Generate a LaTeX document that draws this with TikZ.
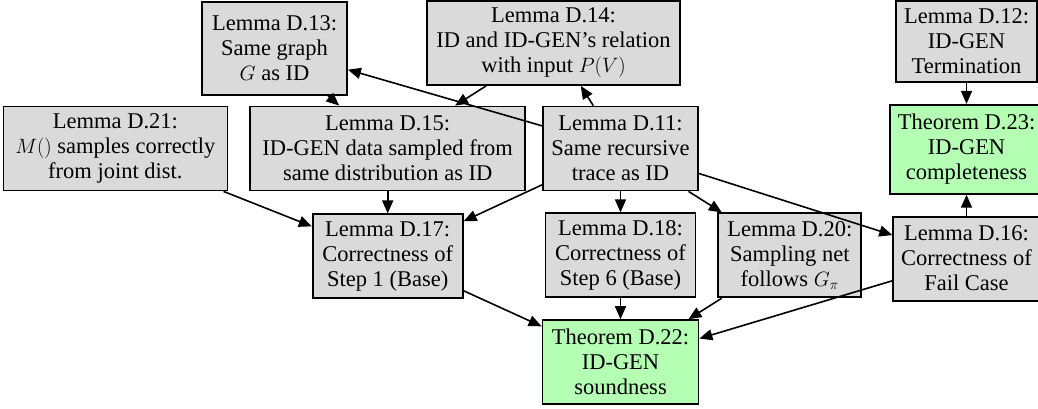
\documentclass[tikz,border=0pt]{standalone}
\usepackage{fontspec}
\setmainfont{Liberation Serif}
\usepackage{xcolor}
\usepackage{amsmath}
\usetikzlibrary{arrows.meta,positioning}
\definecolor{lemmagray}{RGB}{218,218,218}
\definecolor{thmgreen}{RGB}{180,255,180}

\begin{document}
\begin{tikzpicture}[x=1pt, y=-1pt, node distance = 21pt]
        \tikzstyle{lemma} = [rectangle, draw, line width = 1.8pt, fill = lemmagray, align = center, font = \fontsize{22.5}{25}\selectfont, minimum height = 84pt, inner xsep = 8pt, inner ysep = 4pt]
        \tikzstyle{theorem} = [lemma, fill = thmgreen]
        \tikzstyle{dep} = [-{Triangle[length=13pt, width=11pt]}, line width = 1.6pt]
        \useasboundingbox (0,0) rectangle (1038,408);
        \node at (620.5,148.5) (lemmaeleven) [lemma, minimum width = 155pt] {Lemma D.11: \\ Same recursive \\ trace as ID};
        \node (lemmafifteen) [lemma, minimum width = 275pt, left = 16pt of lemmaeleven] {Lemma D.15: \\ ID-GEN data sampled from \\ same distribution as ID};
        \node (lemmatwentyone) [lemma, minimum width = 224pt, left = of lemmafifteen] {Lemma D.21: \\ $M()$ samples correctly \\ from joint dist.};
        \node (lemmaeighteen) [lemma, minimum width = 150pt, below = of lemmaeleven] {Lemma D.18: \\ Correctness of \\ Step 6 (Base)};
        \node (thmsound) [theorem, minimum width = 156pt, below = of lemmaeighteen] {Theorem D.22: \\ ID-GEN \\ soundness};
        \node (lemmatwenty) [lemma, minimum width = 143pt, right = of lemmaeighteen] {Lemma D.20: \\ Sampling net \\ follows $G_\pi$};
        \node (lemmaseventeen) [lemma, minimum width = 150pt, below = 22pt of lemmafifteen] {Lemma D.17: \\ Correctness of \\ Step 1 (Base)};
        \node at (274.5,48.5) (lemmathirteen) [lemma, minimum width = 145pt, minimum height = 93pt] {Lemma D.13: \\ Same graph \\ $G$ as ID};
        \node at (553.5,43) (lemmafourteen) [lemma, minimum width = 253pt] {Lemma D.14: \\ ID and ID-GEN's relation \\ with input $P(V)$};
        \node at (966.5,41.5) (lemmatwelve) [lemma, minimum width = 141pt, minimum height = 81pt] {Lemma D.12: \\ ID-GEN \\ Termination};
        \node (thmcomplete) [theorem, minimum width = 148pt, minimum height = 89pt, below = of lemmatwelve] {Theorem D.23: \\ ID-GEN \\ completeness};
        \node (lemmasixteen) [lemma, minimum width = 145pt, below = of thmcomplete] {Lemma D.16: \\ Correctness of \\ Fail Case};
        \draw [dep] (lemmathirteen) -- (lemmafifteen);
        \draw [dep] (lemmafourteen) -- (lemmafifteen);
        \draw [dep] (lemmaeleven) -- (lemmathirteen);
        \draw [dep] (lemmaeleven) -- (lemmafourteen);
        \draw [dep] (lemmafifteen) -- (lemmaseventeen);
        \draw [dep] (lemmaeleven) -- (lemmaseventeen);
        \draw [dep] (lemmatwentyone) -- (lemmaseventeen);
        \draw [dep] (lemmaeleven) -- (lemmaeighteen);
        \draw [dep] (lemmaeleven) -- (lemmatwenty);
        \draw [dep] (lemmaeleven) -- (lemmasixteen);
        \draw [dep] (lemmatwelve) -- (thmcomplete);
        \draw [dep] (lemmasixteen) -- (thmcomplete);
        \draw [dep] (lemmaseventeen) -- (thmsound);
        \draw [dep] (lemmaeighteen) -- (thmsound);
        \draw [dep] (lemmatwenty) -- (thmsound);
        \draw [dep] (lemmasixteen) -- (thmsound);
    \end{tikzpicture}
\end{document}
